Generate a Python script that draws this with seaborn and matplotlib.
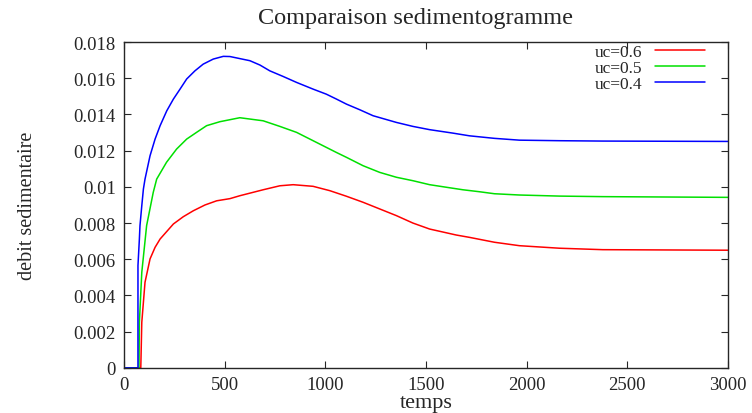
import numpy as np
import pandas as pd
import matplotlib
matplotlib.use("Agg")
import matplotlib.pyplot as plt
import seaborn as sns
from matplotlib.ticker import FuncFormatter, MultipleLocator

# valeurs
t_06 = [0, 83, 88, 104, 129, 154, 179, 245, 294, 344, 402, 460, 526, 575, 691,
        774, 840, 939, 1022, 1105, 1187, 1270, 1353, 1435, 1518, 1650, 1716,
        1840, 1964, 2163, 2378, 3000]
q_06 = [0, 0, 0.00252, 0.00473, 0.00602, 0.00666, 0.00712, 0.00795, 0.00835,
        0.00868, 0.00900, 0.00923, 0.00935, 0.00951, 0.00984, 0.01006, 0.01012,
        0.01003, 0.00979, 0.00948, 0.00915, 0.00878, 0.00841, 0.00800, 0.00767,
        0.00734, 0.00721, 0.00694, 0.00675, 0.00661, 0.00653, 0.00650]

t_05 = [0, 74, 76, 88, 112, 145, 162, 211, 261, 311, 360, 410, 476, 575, 691,
        774, 857, 923, 989, 1055, 1105, 1187, 1270, 1353, 1435, 1518, 1600,
        1683, 1766, 1840, 1964, 2163, 2378, 3000]
q_05 = [0, 0, 0.00252, 0.00528, 0.00786, 0.0097, 0.01043, 0.01136, 0.01209,
        0.01264, 0.01301, 0.01338, 0.01360, 0.01382, 0.01365, 0.01334, 0.01301,
        0.01264, 0.01227, 0.01190, 0.01163, 0.01117, 0.01080, 0.01053, 0.01034,
        0.01012, 0.00998, 0.00984, 0.00973, 0.00962, 0.00955, 0.00949, 0.00946,
        0.00942]

t_04 = [0, 69, 69, 76, 79, 88, 96, 104, 129, 154, 179, 212, 245, 278, 311, 352,
        393, 443, 493, 526, 625, 675, 724, 790, 857, 939, 1005, 1055, 1105, 1171,
        1237, 1353, 1435, 1518, 1633, 1716, 1840, 1964, 2163, 2376, 3000]
q_04 = [0, 0, 0.00565, 0.00712, 0.00786, 0.00896, 0.00988, 0.01043, 0.01172,
        0.01264, 0.01338, 0.01420, 0.01485, 0.01540, 0.01596, 0.01641, 0.01678,
        0.01706, 0.01721, 0.01720, 0.01697, 0.01673, 0.01641, 0.01610, 0.01577,
        0.01540, 0.01512, 0.01485, 0.01457, 0.01426, 0.01393, 0.01356, 0.01334,
        0.01316, 0.01297, 0.01282, 0.01268, 0.01258, 0.01255, 0.01253, 0.01251]

labels = ["uc=0.6", "uc=0.5", "uc=0.4"]
colors = ["#ff0000", "#00e000", "#0000ff"]

df = pd.concat([
    pd.DataFrame({"temps": t_06, "debit": q_06, "serie": labels[0]}),
    pd.DataFrame({"temps": t_05, "debit": q_05, "serie": labels[1]}),
    pd.DataFrame({"temps": t_04, "debit": q_04, "serie": labels[2]}),
])

sns.set_style("ticks")
plt.rcParams["font.family"] = ["Liberation Serif", "DejaVu Serif"]

fig = plt.figure(figsize=(7.52, 4.14), dpi=100)
ax = fig.add_axes([0.165, 0.109, 0.803, 0.787])

sns.lineplot(data=df, x="temps", y="debit", hue="serie", palette=colors,
             estimator=None, sort=False, linewidth=1.1, ax=ax)

ax.set_xlim(0, 3000)
ax.set_ylim(0, 0.018)
ax.xaxis.set_major_locator(MultipleLocator(500))
ax.yaxis.set_major_locator(MultipleLocator(0.002))
ax.yaxis.set_major_formatter(FuncFormatter(lambda v, p: f"{round(v, 4):g}"))
ax.tick_params(direction="in", top=True, right=True, length=5, width=0.8,
               labelsize=13.5, pad=6)
for s in ax.spines.values():
    s.set_linewidth(1.0)

ax.set_xlabel("temps", fontsize=16, labelpad=0)
ax.set_ylabel("debit sedimentaire", fontsize=14.5)
ax.yaxis.set_label_coords(-0.144, 0.5)
fig.text(0.552, 1 - 24 / 414, "Comparaison sedimentogramme", fontsize=17.5,
         ha="center", va="baseline")

ax.legend(loc="upper right", frameon=False, markerfirst=False, fontsize=12.5,
          handlelength=2.9, handletextpad=0.7, labelspacing=0.0,
          borderaxespad=0, borderpad=0, bbox_to_anchor=(0.962, 0.995))

fig.savefig("out.png", dpi=100)
